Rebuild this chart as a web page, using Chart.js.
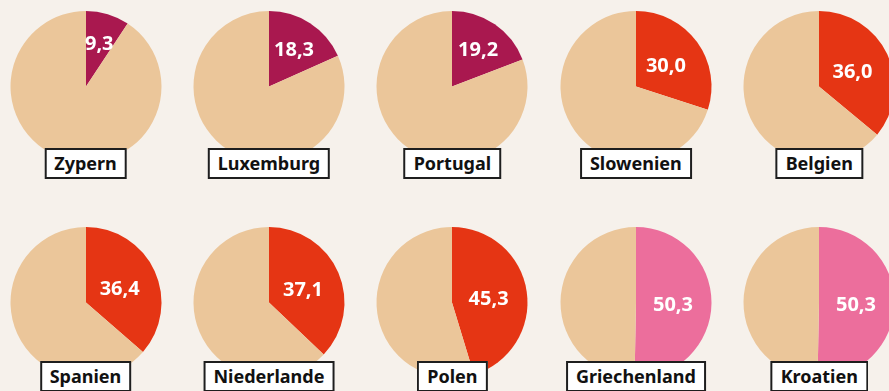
<!DOCTYPE html>
<html lang="de">
<head>
<meta charset="utf-8">
<title>Anteile nach Ländern</title>
<script src="https://cdn.jsdelivr.net/npm/chart.js@4/dist/chart.umd.min.js"></script>
<style>
  html, body { margin: 0; padding: 0; }
  body {
    width: 889px; height: 391px; overflow: hidden;
    background: #f6f1eb;
    font-family: "Noto Sans", "DejaVu Sans", sans-serif;
    position: relative;
  }
  .cell { position: absolute; width: 180px; height: 200px; }
  .cell canvas { position: absolute; left: 0; top: 0; }
  .name {
    position: absolute;
    transform: translateX(-50%);
    background: #ffffff;
    border: 2px solid #1e1e1e;
    padding: 0 8px;
    height: 27px;
    line-height: 27px;
    font-weight: 700;
    font-size: 18px;
    color: #111;
    white-space: nowrap;
  }
</style>
</head>
<body>
<script>
// Länder und Anteile (in Prozent)
const countries = ["Zypern", "Luxemburg", "Portugal", "Slowenien", "Belgien",
                   "Spanien", "Niederlande", "Polen", "Griechenland", "Kroatien"];
const shares = [9.3, 18.3, 19.2, 30.0, 36.0, 36.4, 37.1, 45.3, 50.3, 50.3];

const REST = "#ebc69a";
function sliceColor(v) {
  if (v < 20) return "#a9184f";
  if (v <= 50) return "#e53514";
  return "#ec6e9c";
}
const fmt = v => v.toFixed(1).replace(".", ",");

// Wert in das farbige Segment schreiben
const valueLabel = {
  id: "valueLabel",
  afterDatasetsDraw(chart) {
    const arc = chart.getDatasetMeta(0).data[0];
    const v = chart.data.datasets[0].data[0];
    const mid = (arc.startAngle + arc.endAngle) / 2;
    const d = arc.outerRadius * (v < 25 ? 0.61 : 0.49);
    const x = arc.x + Math.cos(mid) * d;
    const y = arc.y + Math.sin(mid) * d + 2;
    const ctx = chart.ctx;
    ctx.save();
    ctx.fillStyle = "#ffffff";
    ctx.font = "700 20px 'Noto Sans', sans-serif";
    ctx.textAlign = "center";
    ctx.textBaseline = "middle";
    ctx.fillText(fmt(v), x, y);
    ctx.restore();
  }
};

const colX = i => 85.5 + 183.45 * i;
const rowY = [86.5, 302.4];
const boxTop = [148, 361];

countries.forEach((name, i) => {
  const col = i % 5, row = Math.floor(i / 5);
  const cx = colX(col), cy = rowY[row];
  const cell = document.createElement("div");
  cell.className = "cell";
  cell.style.left = (cx - 90) + "px";
  cell.style.top = (cy - 86.5) + "px";
  const canvas = document.createElement("canvas");
  canvas.width = 180; canvas.height = 200;
  cell.appendChild(canvas);
  document.body.appendChild(cell);

  const v = shares[i];
  new Chart(canvas, {
    type: "pie",
    data: {
      labels: [name, "Rest"],
      datasets: [{
        data: [v, 100 - v],
        backgroundColor: [sliceColor(v), REST],
        borderWidth: 0
      }]
    },
    options: {
      responsive: false,
      animation: false,
      events: [],
      layout: { padding: { left: 14.5, right: 14.5, top: 11, bottom: 38 } },
      plugins: { legend: { display: false }, tooltip: { enabled: false } }
    },
    plugins: [valueLabel]
  });

  const box = document.createElement("div");
  box.className = "name";
  box.textContent = name;
  box.style.left = cx + "px";
  box.style.top = boxTop[row] + "px";
  document.body.appendChild(box);
});
</script>
</body>
</html>
